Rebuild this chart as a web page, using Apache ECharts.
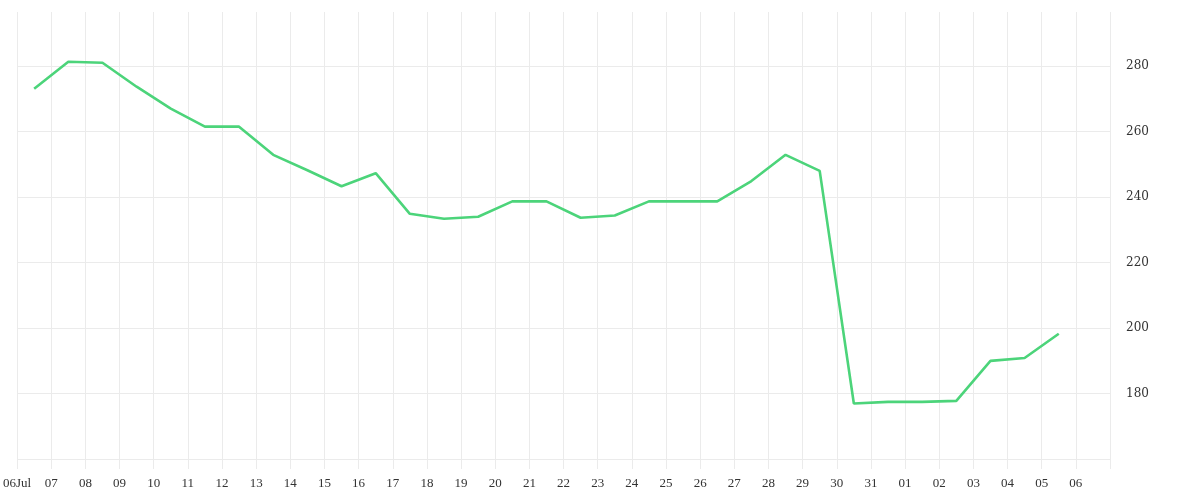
<!DOCTYPE html>
<html>
<head>
<meta charset="utf-8">
<script src="https://cdn.jsdelivr.net/npm/echarts@6/dist/echarts.min.js"></script>
<style>html,body{margin:0;padding:0;background:#fff}#c{width:1200px;height:500px}</style>
</head>
<body>
<div id="c"></div>
<script>
// Daily readings (plotted at midday of each day)
const dates = [
  '2024-07-06','2024-07-07','2024-07-08','2024-07-09','2024-07-10','2024-07-11','2024-07-12',
  '2024-07-13','2024-07-14','2024-07-15','2024-07-16','2024-07-17','2024-07-18','2024-07-19',
  '2024-07-20','2024-07-21','2024-07-22','2024-07-23','2024-07-24','2024-07-25','2024-07-26',
  '2024-07-27','2024-07-28','2024-07-29','2024-07-30','2024-07-31','2024-08-01','2024-08-02',
  '2024-08-03','2024-08-04','2024-08-05'
];
const values = [
  273.1, 281.3, 281.0, 273.7, 267.0, 261.5, 261.5,
  252.9, 248.2, 243.3, 247.3, 234.9, 233.4, 234.0,
  238.7, 238.7, 233.7, 234.4, 238.7, 238.7, 238.7,
  244.9, 252.9, 248.0, 177.0, 177.5, 177.5, 177.8,
  190.0, 190.9, 198.3
];
const axisStart = '2024-07-06';
const axisEnd = '2024-08-07';
const monthNames = ['Jan','Feb','Mar','Apr','May','Jun','Jul','Aug','Sep','Oct','Nov','Dec'];
const yLabelValues = [180, 200, 220, 240, 260, 280];

const toNoon = s => Date.parse(s + 'T12:00:00Z');
const toMidnight = s => Date.parse(s + 'T00:00:00Z');
const minT = toMidnight(axisStart);
const maxT = toMidnight(axisEnd);
const DAY = 86400000;

const chart = echarts.init(document.getElementById('c'));
chart.setOption({
  useUTC: true,
  animation: false,
  backgroundColor: '#fff',
  grid: { left: 14, right: 90, top: 12, bottom: 31 },
  xAxis: {
    type: 'time',
    min: minT,
    max: maxT,
    minInterval: DAY,
    maxInterval: DAY,
    axisLine: { show: false },
    axisTick: { show: false },
    splitLine: { show: true, lineStyle: { color: '#ebebeb', width: 1 } },
    axisLabel: {
      color: '#333',
      fontFamily: 'Liberation Serif',
      fontSize: 13,
      margin: 8,
      hideOverlap: false,
      formatter: function (v) {
        if (v >= maxT) return '';
        const d = new Date(v);
        const day = String(d.getUTCDate()).padStart(2, '0');
        return v === minT ? day + monthNames[d.getUTCMonth()] : day;
      }
    }
  },
  yAxis: {
    type: 'value',
    position: 'right',
    min: 157,
    max: 296.5,
    splitNumber: 7,
    axisLine: { show: false },
    axisTick: { show: false },
    splitLine: { show: true, showMinLine: false, showMaxLine: false, lineStyle: { color: '#ebebeb', width: 1 } },
    axisLabel: {
      color: '#333',
      fontFamily: 'DejaVu Serif',
      fontSize: 12,
      margin: 16,
      showMinLabel: false,
      showMaxLabel: false,
      formatter: function (v) {
        return yLabelValues.indexOf(v) >= 0 ? String(v) : '';
      }
    }
  },
  series: [{
    type: 'line',
    data: dates.map((d, i) => [toNoon(d), values[i]]),
    showSymbol: false,
    symbol: 'none',
    lineStyle: { color: '#4cd47a', width: 2.6 },
    itemStyle: { color: '#4cd47a' }
  }]
});
</script>
</body>
</html>
